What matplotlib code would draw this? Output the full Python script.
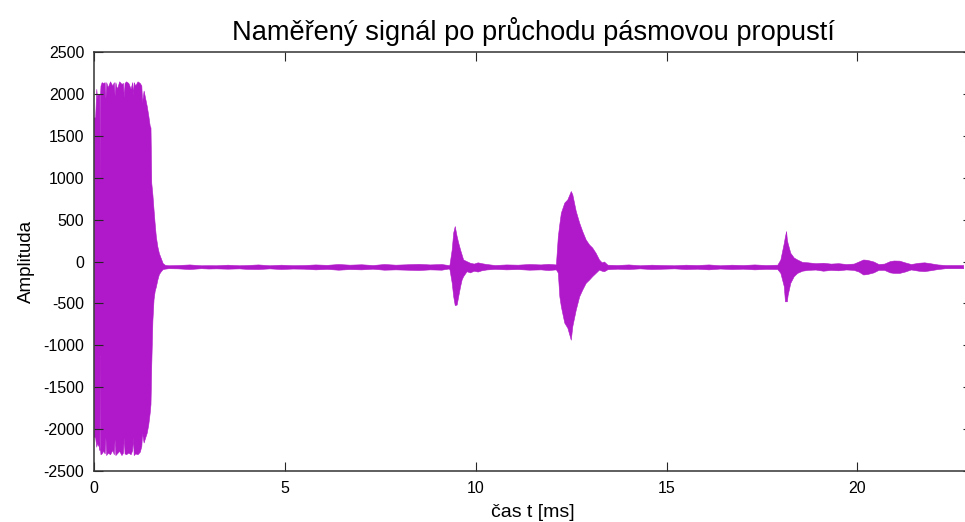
import matplotlib
matplotlib.use("Agg")
import matplotlib.pyplot as plt
import numpy as np

plt.rcParams['font.family'] = ['Liberation Sans', 'DejaVu Sans']
plt.rcParams['axes.unicode_minus'] = False

# time [ms] and envelope of the measured signal (upper / lower bounds)
t_ms = [0.00, 0.03, 0.06, 0.08, 0.10, 0.13, 0.142, 0.147, 0.155, 0.160, 0.17, 0.20, 0.24, 0.28, 0.30,
        0.32, 0.36, 0.42, 0.48, 0.52, 0.54, 0.56, 0.60, 0.66, 0.72, 0.76, 0.78, 0.80, 0.84,
        0.90, 0.96, 1.00, 1.02, 1.04, 1.08, 1.14, 1.20, 1.24, 1.26, 1.30, 1.34,
        1.38, 1.42, 1.46, 1.48, 1.50, 1.53, 1.56, 1.59, 1.62, 1.66, 1.70, 1.75, 1.80, 1.86,
        1.95, 2.2, 2.5, 2.8, 3.0, 3.2, 3.5, 3.8, 4.0, 4.3, 4.6, 4.9, 5.2, 5.5, 5.8, 6.1,
        6.4, 6.7, 7.0, 7.3, 7.6, 7.9, 8.2, 8.5, 8.8, 9.1, 9.28,
        9.31, 9.37, 9.41, 9.45, 9.50, 9.54, 9.59, 9.63, 9.67, 9.76, 9.85, 9.95, 10.05, 10.15, 10.28,
        10.5, 10.8, 11.1, 11.4, 11.7, 11.9, 12.1,
        12.15, 12.19, 12.23, 12.32, 12.40, 12.49, 12.53, 12.62, 12.71, 12.79, 12.88, 12.97,
        13.05, 13.14, 13.23, 13.30, 13.36, 13.45,
        13.7, 14.0, 14.3, 14.6, 14.9, 15.2, 15.5, 15.8, 16.1, 16.4, 16.7, 17.0, 17.3, 17.6, 17.9,
        17.98, 18.07, 18.10, 18.13, 18.15, 18.17, 18.24, 18.33, 18.42, 18.55, 18.7, 18.9, 19.1,
        19.3, 19.5, 19.7, 19.9,
        20.03, 20.15, 20.25, 20.42, 20.55, 20.7, 20.85, 20.95, 21.1, 21.24, 21.4, 21.6, 21.75,
        21.9, 22.1, 22.3, 22.5, 22.77]

upper = [1720, 1720, 2060, 1950, 2000, 1980, 2000, 1020, 1020, 2000, 2100, 2140, 2130, 2140, 1950,
         2140, 2080, 2150, 2100, 2140, 1980, 2140, 2060, 2150, 2120, 2130, 1960, 2130, 2150,
         2130, 2060, 2140, 1990, 2140, 2100, 2150, 2130, 2100, 1900, 2040, 1950,
         1860, 1750, 1620, 1600, 940, 800, 620, 450, 300, 180, 100, 40, -20, -40,
         -45, -42, -35, -45, -44, -45, -38, -45, -42, -35, -45, -38, -44, -42, -35, -40,
         -30, -38, -33, -42, -30, -38, -33, -28, -35, -30, -42,
         -42, 143, 347, 423, 303, 227, 143, 84, 24, 4, -15, -25, -10, -20, -30,
         -42, -35, -38, -30, -35, -28, -35,
         300, 450, 583, 703, 742, 841, 801, 603, 464, 363, 263, 203,
         167, 104, 24, -10, 0, -38,
         -42, -35, -45, -38, -42, -45, -38, -42, -35, -45, -38, -42, -35, -42, -38,
         24, 223, 300, 363, 263, 220, 104, 48, 24, -5, -10, -20, -15,
         -25, -20, -30, -25,
         0, 24, 20, 0, -30, -25, 5, 12, 10, -10, -30, -15, -10,
         -20, -35, -42, -42, -42]

lower = [-2090, -2100, -2210, -2150, -2200, -2150, -2250, -1130, -1130, -2250, -2300, -2290, -2260, -2290, -2100,
         -2310, -2280, -2300, -2250, -2300, -2120, -2310, -2290, -2260, -2310, -2280, -2100, -2290, -2300,
         -2280, -2300, -2250, -2100, -2310, -2290, -2300, -2270, -2200, -2050, -2160, -2100,
         -2045, -1950, -1800, -1700, -1230, -700, -450, -350, -300, -215, -150, -116, -90, -85,
         -80, -82, -90, -80, -84, -82, -86, -82, -88, -90, -82, -90, -84, -86, -94, -88,
         -98, -90, -94, -86, -98, -94, -98, -102, -94, -98, -84,
         -88, -251, -415, -520, -514, -415, -295, -215, -175, -116, -130, -110, -120, -105, -95,
         -88, -94, -90, -98, -94, -102, -94,
         -132, -415, -535, -730, -790, -933, -770, -574, -415, -335, -255, -215,
         -175, -136, -96, -110, -116, -92,
         -86, -90, -82, -90, -86, -82, -90, -86, -94, -84, -90, -86, -94, -88, -90,
         -136, -295, -475, -475, -475, -400, -255, -175, -136, -110, -100, -96, -110,
         -100, -105, -95, -100,
         -120, -155, -150, -130, -100, -100, -130, -136, -136, -120, -95, -110, -115,
         -105, -90, -80, -80, -80]

x_ticks = [0, 5, 10, 15, 20]
y_ticks = [-2500, -2000, -1500, -1000, -500, 0, 500, 1000, 1500, 2000, 2500]

title = "Naměřený signál po průchodu pásmovou propustí"
xlabel = "čas t [ms]"
ylabel = "Amplituda"

color = '#B019C9'

fig = plt.figure(figsize=(9.65, 5.22), dpi=100)
ax = fig.add_axes([94 / 965, 1 - 471 / 522, (972 - 94) / 965, (471 - 52) / 522])

ax.fill_between(t_ms, lower, upper, color=color, linewidth=0.4, edgecolor=color)

ax.set_xlim(0, 23)
ax.set_ylim(-2500, 2500)
ax.set_xticks(x_ticks)
ax.set_yticks(y_ticks)
ax.tick_params(direction='in', length=6.5, width=0.8, color='#262626',
               top=True, right=True, labelsize=11.5, pad=7)
for s in ax.spines.values():
    s.set_color('#333333')
    s.set_linewidth(1.1)

ax.set_title(title, fontsize=19.6, pad=9)
ax.set_xlabel(xlabel, fontsize=14, labelpad=6)
ax.set_ylabel(ylabel, fontsize=13.5, labelpad=6)

fig.savefig('out.png', dpi=100)
